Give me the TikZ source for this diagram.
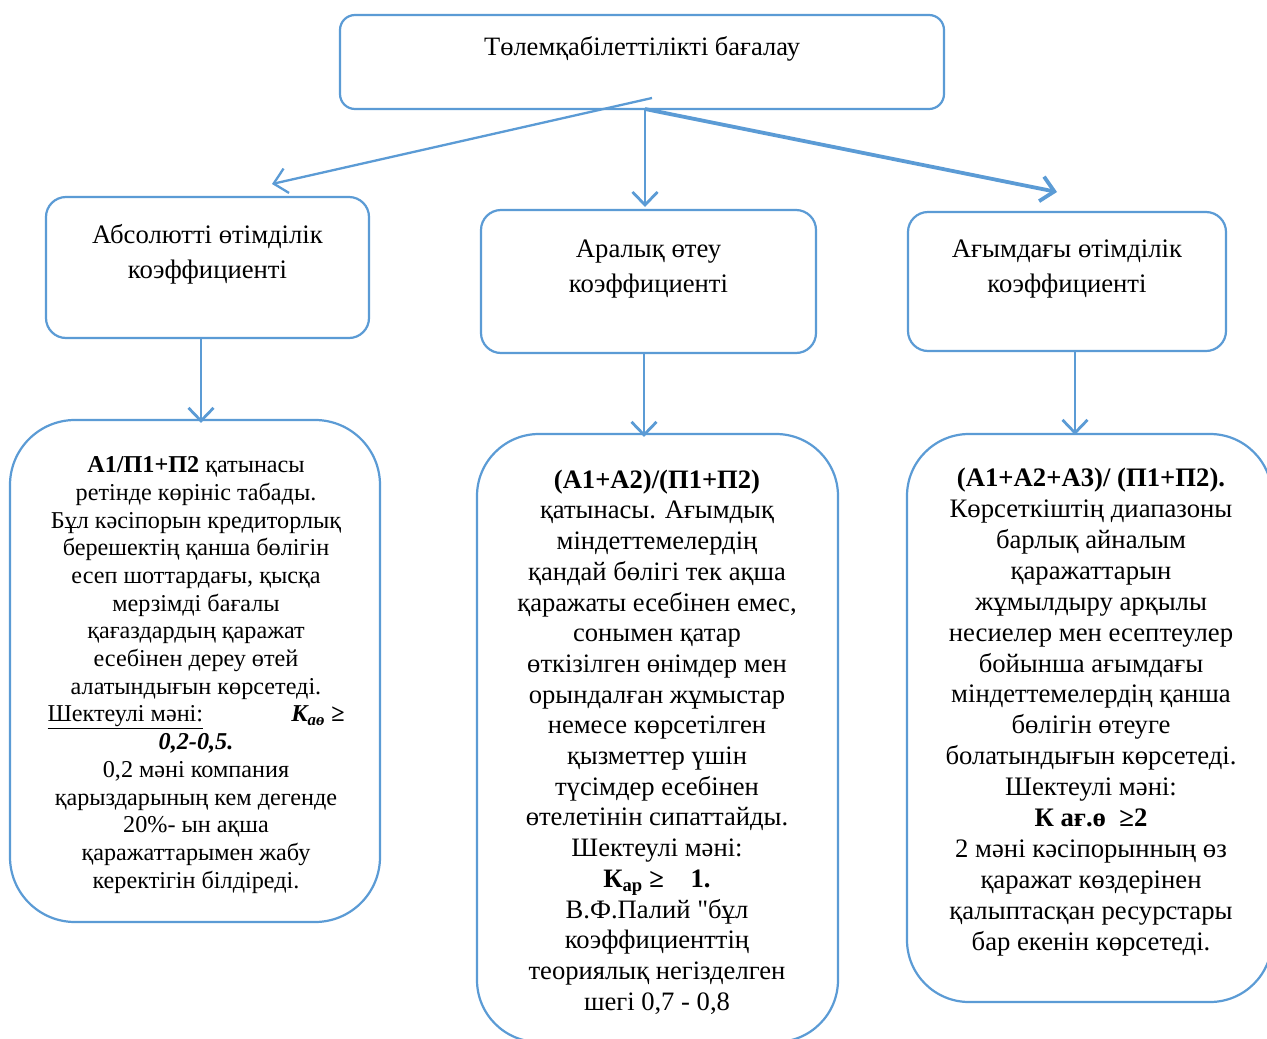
\documentclass[tikz,border=0pt]{standalone}
\usepackage{fontspec}
\setmainfont{Liberation Serif}
\newfontfamily\plainq{Liberation Serif}
\usetikzlibrary{arrows.meta}
\definecolor{bl}{HTML}{5B9BD5}
\begin{document}
\begin{tikzpicture}[x=1pt,y=-1pt,
  box/.style={draw=bl,line width=2.2pt,rounded corners=#1,inner sep=0pt},
  arr/.style={draw=bl,line width=2.8pt,-{Straight Barb[length=13pt,width=25pt]}},
  txt/.style={align=center,inner sep=0pt,text=black}]
\useasboundingbox (0,0) rectangle (1267,1039);
\clip (0,0) rectangle (1267,1039);
\fill[white] (0,0) rectangle (1267,1039);
% boxes
\node[box=15pt,minimum width=604pt,minimum height=94pt] (top) at (642,62) {};
\node[box=20pt,minimum width=323pt,minimum height=141pt] (A) at (207.5,267.5) {};
\node[box=20pt,minimum width=335pt,minimum height=143pt] (B) at (648.5,281.5) {};
\node[box=20pt,minimum width=318pt,minimum height=139pt] (C) at (1067,281.5) {};
\node[box=65pt,minimum width=370pt,minimum height=502pt] (D) at (195,671) {};
\node[box=62pt,minimum width=361pt,minimum height=608pt] (E) at (657.5,738) {};
\node[box=62pt,minimum width=365pt,minimum height=568pt] (F) at (1089.5,718) {};
% texts
\node[txt,font=\fontsize{26.5pt}{30pt}\selectfont] (tt) at (642,49) {Төлемқабілеттілікті бағалау};
\node[txt,font=\fontsize{26.7pt}{35pt}\selectfont] (ta) at (207.5,254) {Абсолютті өтімділік\\коэффициенті};
\node[txt,font=\fontsize{26.7pt}{35pt}\selectfont] (tb) at (648.5,269) {Аралық өтеу\\коэффициенті};
\node[txt,font=\fontsize{26.7pt}{35pt}\selectfont] (tc) at (1067,269) {Ағымдағы өтімділік\\коэффициенті};
\node[txt,font=\fontsize{24.2pt}{27.7pt}\selectfont] (td) at (196,675) {%
\textbf{А1/П1+П2} қатынасы\\
ретінде көрініс табады.\\
Бұл кәсіпорын кредиторлық\\
берешектің қанша бөлігін\\
есеп шоттардағы, қысқа\\
мерзімді бағалы\\
қағаздардың қаражат\\
есебінен дереу өтей\\
алатындығын көрсетеді.\\
\makebox[297pt]{\underline{Шектеулі мәні:}\hfill\textbf{\textit{К\textsubscript{аө} ≥}}}\\
\textbf{\textit{0,2-0,5.}}\\
0,2 мәні компания\\
қарыздарының кем дегенде\\
20\%- ын ақша\\
қаражаттарымен жабу\\
керектігін білдіреді.};
\node[txt,font=\fontsize{26.6pt}{30.7pt}\selectfont] (te) at (657,742) {%
\textbf{(А1+А2)/(П1+П2)}\\
қатынасы. Ағымдық\\
міндеттемелердің\\
қандай бөлігі тек ақша\\
қаражаты есебінен емес,\\
сонымен қатар\\
өткізілген өнімдер мен\\
орындалған жұмыстар\\
немесе көрсетілген\\
қызметтер үшін\\
түсімдер есебінен\\
өтелетінін сипаттайды.\\
Шектеулі мәні:\\
\textbf{К\textsubscript{ар} ≥\quad 1.}\\
В.Ф.Палий {\plainq"}бұл\\
коэффициенттің\\
теориялық негізделген\\
шегі 0,7 - 0,8};
\node[txt,font=\fontsize{26.7pt}{30.9pt}\selectfont] (tf) at (1091,712) {%
\textbf{(А1+А2+А3)/ (П1+П2).}\\
Көрсеткіштің диапазоны\\
барлық айналым\\
қаражаттарын\\
жұмылдыру арқылы\\
несиелер мен есептеулер\\
бойынша ағымдағы\\
міндеттемелердің қанша\\
бөлігін өтеуге\\
болатындығын көрсетеді.\\
Шектеулі мәні:\\
\textbf{К ағ.ө\ \ ≥2}\\
2 мәні кәсіпорынның өз\\
қаражат көздерінен\\
қалыптасқан ресурстары\\
бар екенін көрсетеді.};
% connectors
\coordinate (s1) at (652,98);
\coordinate (s2) at (645,109);
\coordinate (e1) at (272,184);
\coordinate (e2) at (645,207);
\coordinate (e3) at (1057,192);
\draw[arr,line width=2.3pt] (s1) -- (e1);
\draw[arr] (s2) -- (e2);
\draw[arr,line width=3.8pt] (s2) -- (e3);
\draw[arr] (A.south -| 201,0) -- ([yshift=-4pt]D.north -| 201,0);
\draw[arr] (B.south -| 644,0) -- ([yshift=-4pt]E.north -| 644,0);
\draw[arr] (C.south -| 1075,0) -- ([yshift=-2pt]F.north -| 1075,0);
\end{tikzpicture}
\end{document}
